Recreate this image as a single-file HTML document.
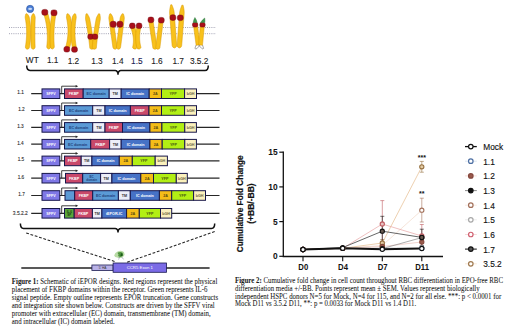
<!DOCTYPE html>
<html><head><meta charset="utf-8">
<style>
html,body{margin:0;padding:0;background:#fff;width:520px;height:336px;overflow:hidden}
svg{position:absolute;left:0;top:0;display:block}
.ser{font-family:"Liberation Serif",serif}
.san{font-family:"Liberation Sans",sans-serif}
</style></head><body>
<svg width="520" height="336" viewBox="0 0 520 336">
<rect width="520" height="336" fill="#fff"/>

<!-- ===== chromosomes ===== -->
<g id="dots" stroke="#8a8aa0" stroke-width="0.8" stroke-dasharray="1 1.2">
  <line x1="9" y1="27.5" x2="216" y2="27.5"/>
  <line x1="9" y1="33.7" x2="216" y2="33.7"/>
</g>
<g id="chromo">
<g fill="#f8c11c" stroke="#d99800" stroke-width="0.55" stroke-linejoin="round">
<path d="M25.82,13.94 L25.61,14.74 L25.42,15.53 L25.27,16.30 L25.20,17.05 L25.21,17.78 L25.31,18.49 L25.44,19.20 L25.56,19.90 L25.68,20.61 L25.78,21.31 L25.88,22.02 L25.98,22.73 L26.07,23.44 L26.15,24.15 L26.22,24.86 L26.29,25.57 L26.35,26.29 L26.41,27.00 L26.46,27.72 L26.50,28.43 L26.53,29.15 L26.56,29.87 L26.58,30.59 L26.60,31.31 L26.61,32.03 L26.61,32.75 L26.61,33.48 L26.60,34.20 L26.58,34.93 L26.55,35.65 L26.52,36.38 L26.49,37.11 L26.44,37.84 L26.39,38.57 L26.33,39.30 L26.27,40.03 L26.20,40.77 L26.12,41.50 L26.04,42.24 L25.95,42.97 L25.85,43.71 L25.75,44.45 L25.64,45.19 L25.52,45.93 L25.41,46.67 L25.44,47.45 L25.71,48.27 L27.00,49.30 L27.00,49.30 L28.58,48.81 L29.13,48.11 L29.43,47.36 L29.57,46.59 L29.69,45.81 L29.81,45.04 L29.92,44.26 L30.02,43.49 L30.11,42.72 L30.20,41.95 L30.28,41.18 L30.35,40.41 L30.42,39.64 L30.48,38.87 L30.53,38.10 L30.58,37.34 L30.62,36.57 L30.65,35.81 L30.68,35.04 L30.70,34.28 L30.71,33.52 L30.71,32.76 L30.71,32.00 L30.70,31.24 L30.68,30.48 L30.66,29.73 L30.63,28.97 L30.59,28.21 L30.55,27.46 L30.50,26.71 L30.44,25.95 L30.37,25.20 L30.30,24.45 L30.22,23.70 L30.14,22.95 L30.05,22.21 L29.95,21.46 L29.84,20.71 L29.73,19.97 L29.61,19.23 L29.48,18.48 L29.34,17.74 L29.17,17.01 L28.89,16.29 L28.52,15.61 L28.06,14.94 L27.54,14.29 L26.98,13.66 Z"/>
<path d="M32.80,13.77 L32.39,14.47 L32.00,15.17 L31.67,15.88 L31.42,16.59 L31.26,17.31 L31.20,18.04 L31.17,18.76 L31.15,19.49 L31.12,20.22 L31.10,20.95 L31.07,21.68 L31.05,22.41 L31.03,23.14 L31.01,23.88 L30.99,24.61 L30.98,25.35 L30.96,26.08 L30.95,26.82 L30.94,27.56 L30.93,28.30 L30.92,29.04 L30.91,29.78 L30.90,30.52 L30.90,31.26 L30.90,32.01 L30.89,32.75 L30.89,33.50 L30.89,34.24 L30.90,34.99 L30.90,35.74 L30.90,36.49 L30.91,37.24 L30.92,37.99 L30.93,38.74 L30.94,39.50 L30.95,40.25 L30.96,41.01 L30.98,41.76 L30.99,42.52 L31.01,43.28 L31.03,44.04 L31.05,44.80 L31.07,45.56 L31.10,46.32 L31.13,47.08 L31.32,47.84 L31.75,48.59 L33.20,49.30 L33.20,49.30 L34.59,48.49 L34.97,47.71 L35.11,46.95 L35.09,46.20 L35.07,45.44 L35.05,44.69 L35.03,43.93 L35.01,43.18 L34.99,42.43 L34.98,41.68 L34.96,40.93 L34.95,40.19 L34.94,39.44 L34.93,38.69 L34.92,37.95 L34.91,37.20 L34.90,36.46 L34.90,35.72 L34.90,34.98 L34.89,34.24 L34.89,33.50 L34.89,32.76 L34.90,32.02 L34.90,31.29 L34.90,30.55 L34.91,29.82 L34.92,29.08 L34.93,28.35 L34.94,27.62 L34.95,26.89 L34.96,26.16 L34.98,25.43 L34.99,24.70 L35.01,23.98 L35.03,23.25 L35.05,22.53 L35.07,21.80 L35.09,21.08 L35.12,20.36 L35.14,19.64 L35.17,18.92 L35.20,18.20 L35.20,17.48 L35.10,16.76 L34.91,16.03 L34.65,15.30 L34.34,14.57 L34.00,13.83 Z"/>
<path d="M44.83,12.68 L44.25,13.70 L44.01,14.60 L44.18,15.37 L44.40,16.12 L44.60,16.87 L44.80,17.62 L44.99,18.37 L45.18,19.12 L45.35,19.87 L45.52,20.62 L45.69,21.37 L45.84,22.11 L45.99,22.86 L46.13,23.61 L46.26,24.35 L46.38,25.10 L46.50,25.84 L46.61,26.59 L46.71,27.33 L46.80,28.07 L46.89,28.81 L46.97,29.56 L47.04,30.30 L47.11,31.04 L47.16,31.78 L47.21,32.52 L47.26,33.26 L47.29,34.00 L47.32,34.74 L47.34,35.47 L47.35,36.21 L47.36,36.95 L47.35,37.68 L47.34,38.42 L47.33,39.16 L47.30,39.89 L47.27,40.63 L47.23,41.36 L47.18,42.09 L47.13,42.83 L47.07,43.56 L47.00,44.29 L46.92,45.03 L46.84,45.76 L46.76,46.49 L46.82,47.24 L47.11,48.04 L48.40,49.00 L48.40,49.00 L49.92,48.46 L50.44,47.75 L50.70,47.01 L50.81,46.23 L50.90,45.46 L50.98,44.69 L51.05,43.92 L51.12,43.14 L51.17,42.37 L51.22,41.60 L51.26,40.82 L51.30,40.05 L51.32,39.27 L51.34,38.49 L51.35,37.72 L51.36,36.94 L51.35,36.16 L51.34,35.39 L51.32,34.61 L51.29,33.83 L51.25,33.05 L51.21,32.27 L51.15,31.49 L51.09,30.71 L51.03,29.93 L50.95,29.15 L50.87,28.37 L50.77,27.59 L50.67,26.81 L50.57,26.02 L50.45,25.24 L50.33,24.46 L50.20,23.68 L50.06,22.89 L49.91,22.11 L49.76,21.32 L49.60,20.54 L49.43,19.75 L49.25,18.97 L49.07,18.18 L48.87,17.40 L48.67,16.61 L48.46,15.83 L48.25,15.04 L48.02,14.25 L47.75,13.48 L47.03,12.84 L45.97,12.32 Z"/>
<path d="M53.51,12.89 L52.53,13.50 L51.91,14.17 L51.73,14.92 L51.61,15.68 L51.49,16.44 L51.37,17.21 L51.26,17.97 L51.16,18.73 L51.06,19.49 L50.96,20.25 L50.86,21.01 L50.78,21.77 L50.69,22.54 L50.61,23.30 L50.54,24.06 L50.46,24.82 L50.40,25.58 L50.33,26.34 L50.28,27.10 L50.22,27.87 L50.17,28.63 L50.13,29.39 L50.09,30.15 L50.05,30.91 L50.02,31.67 L49.99,32.43 L49.97,33.20 L49.95,33.96 L49.94,34.72 L49.93,35.48 L49.92,36.24 L49.92,37.00 L49.93,37.77 L49.93,38.53 L49.95,39.29 L49.96,40.05 L49.98,40.81 L50.01,41.57 L50.04,42.33 L50.07,43.10 L50.11,43.86 L50.16,44.62 L50.20,45.38 L50.26,46.14 L50.32,46.90 L50.54,47.65 L51.01,48.38 L52.50,49.00 L52.50,49.00 L53.85,48.12 L54.19,47.35 L54.29,46.60 L54.25,45.86 L54.20,45.12 L54.15,44.38 L54.11,43.64 L54.07,42.90 L54.04,42.17 L54.01,41.43 L53.98,40.69 L53.96,39.95 L53.95,39.21 L53.93,38.47 L53.93,37.73 L53.92,37.00 L53.92,36.26 L53.93,35.52 L53.94,34.78 L53.95,34.04 L53.97,33.30 L53.99,32.57 L54.02,31.83 L54.05,31.09 L54.08,30.35 L54.12,29.61 L54.17,28.87 L54.21,28.13 L54.27,27.40 L54.32,26.66 L54.38,25.92 L54.45,25.18 L54.52,24.44 L54.59,23.70 L54.67,22.96 L54.75,22.23 L54.84,21.49 L54.93,20.75 L55.02,20.01 L55.12,19.27 L55.22,18.53 L55.33,17.79 L55.44,17.06 L55.56,16.32 L55.68,15.58 L55.76,14.83 L55.39,14.00 L54.69,13.11 Z"/>
<path d="M66.92,13.97 L66.76,14.78 L66.62,15.57 L66.51,16.35 L66.47,17.10 L66.51,17.82 L66.64,18.53 L66.78,19.22 L66.92,19.91 L67.05,20.61 L67.17,21.30 L67.29,22.00 L67.39,22.69 L67.48,23.38 L67.57,24.08 L67.65,24.77 L67.72,25.47 L67.78,26.16 L67.83,26.85 L67.88,27.55 L67.92,28.24 L67.94,28.94 L67.96,29.63 L67.97,30.32 L67.98,31.02 L67.97,31.71 L67.95,32.41 L67.93,33.10 L67.90,33.80 L67.86,34.49 L67.81,35.19 L67.75,35.88 L67.69,36.58 L67.61,37.27 L67.53,37.97 L67.44,38.67 L67.34,39.36 L67.23,40.06 L67.12,40.75 L66.99,41.45 L66.86,42.15 L66.72,42.85 L66.56,43.54 L66.41,44.24 L66.24,44.94 L66.06,45.64 L65.88,46.34 L65.68,47.04 L67.40,48.30 L67.40,48.30 L69.53,48.12 L69.74,47.38 L69.93,46.64 L70.12,45.90 L70.30,45.15 L70.47,44.41 L70.63,43.67 L70.78,42.92 L70.92,42.18 L71.06,41.44 L71.18,40.69 L71.30,39.95 L71.40,39.21 L71.50,38.46 L71.59,37.72 L71.67,36.98 L71.74,36.23 L71.80,35.49 L71.85,34.75 L71.89,34.00 L71.93,33.26 L71.95,32.52 L71.97,31.77 L71.97,31.03 L71.97,30.29 L71.96,29.54 L71.94,28.80 L71.91,28.06 L71.87,27.32 L71.82,26.57 L71.77,25.83 L71.70,25.09 L71.63,24.35 L71.54,23.61 L71.45,22.86 L71.35,22.12 L71.24,21.38 L71.12,20.64 L70.99,19.90 L70.85,19.16 L70.70,18.42 L70.55,17.68 L70.35,16.94 L70.05,16.23 L69.66,15.55 L69.18,14.89 L68.65,14.25 L68.08,13.63 Z"/>
<path d="M74.41,13.67 L73.89,14.31 L73.40,14.97 L72.96,15.64 L72.61,16.33 L72.35,17.04 L72.19,17.77 L72.07,18.50 L71.95,19.24 L71.84,19.97 L71.74,20.70 L71.65,21.44 L71.56,22.17 L71.47,22.91 L71.40,23.64 L71.33,24.38 L71.26,25.11 L71.20,25.85 L71.15,26.58 L71.11,27.32 L71.07,28.05 L71.04,28.79 L71.01,29.52 L70.99,30.26 L70.98,31.00 L70.97,31.73 L70.97,32.47 L70.97,33.20 L70.98,33.94 L71.00,34.68 L71.02,35.41 L71.06,36.15 L71.09,36.89 L71.13,37.62 L71.18,38.36 L71.24,39.10 L71.30,39.83 L71.37,40.57 L71.44,41.31 L71.52,42.04 L71.61,42.78 L71.71,43.52 L71.81,44.25 L71.91,44.99 L72.02,45.73 L72.14,46.46 L72.27,47.20 L72.40,47.94 L74.50,48.30 L74.50,48.30 L76.33,47.22 L76.21,46.52 L76.09,45.81 L75.98,45.11 L75.87,44.40 L75.77,43.70 L75.67,43.00 L75.58,42.29 L75.50,41.59 L75.42,40.89 L75.35,40.18 L75.29,39.48 L75.23,38.78 L75.17,38.07 L75.13,37.37 L75.09,36.67 L75.05,35.97 L75.02,35.27 L75.00,34.56 L74.98,33.86 L74.97,33.16 L74.97,32.46 L74.97,31.76 L74.97,31.05 L74.99,30.35 L75.01,29.65 L75.03,28.95 L75.06,28.25 L75.10,27.55 L75.14,26.85 L75.19,26.14 L75.25,25.44 L75.31,24.74 L75.38,24.04 L75.45,23.34 L75.53,22.64 L75.62,21.94 L75.71,21.24 L75.80,20.54 L75.91,19.84 L76.02,19.14 L76.13,18.44 L76.22,17.73 L76.23,17.00 L76.14,16.26 L76.00,15.50 L75.80,14.72 L75.59,13.93 Z"/>
<path d="M86.01,13.92 L85.85,14.90 L85.71,15.88 L85.60,16.84 L85.54,17.78 L85.53,18.70 L85.60,19.60 L85.75,20.47 L85.91,21.33 L86.06,22.19 L86.22,23.04 L86.37,23.88 L86.52,24.71 L86.67,25.54 L86.81,26.35 L86.95,27.16 L87.09,27.96 L87.22,28.76 L87.35,29.54 L87.48,30.32 L87.60,31.09 L87.73,31.85 L87.84,32.61 L87.96,33.35 L88.07,34.09 L88.18,34.82 L88.29,35.54 L88.40,36.26 L88.50,36.97 L88.60,37.67 L88.69,38.36 L88.78,39.04 L88.87,39.72 L88.96,40.39 L89.04,41.05 L89.12,41.70 L89.20,42.34 L89.28,42.98 L89.35,43.61 L89.42,44.23 L89.48,44.84 L89.55,45.45 L89.61,46.04 L89.66,46.63 L89.72,47.21 L89.78,47.78 L90.00,48.34 L90.47,48.86 L92.00,49.30 L92.00,49.30 L93.45,48.62 L93.82,48.02 L93.94,47.42 L93.90,46.83 L93.85,46.23 L93.79,45.63 L93.73,45.02 L93.66,44.40 L93.59,43.77 L93.52,43.14 L93.45,42.49 L93.37,41.85 L93.29,41.19 L93.21,40.52 L93.13,39.85 L93.04,39.17 L92.95,38.48 L92.85,37.79 L92.76,37.09 L92.66,36.38 L92.55,35.66 L92.45,34.93 L92.34,34.20 L92.23,33.46 L92.11,32.71 L91.99,31.96 L91.87,31.19 L91.75,30.42 L91.62,29.64 L91.49,28.86 L91.36,28.06 L91.23,27.26 L91.09,26.45 L90.95,25.63 L90.80,24.81 L90.66,23.98 L90.51,23.14 L90.35,22.29 L90.20,21.43 L90.04,20.57 L89.88,19.70 L89.69,18.83 L89.43,17.96 L89.08,17.10 L88.68,16.24 L88.21,15.39 L87.71,14.54 L87.19,13.68 Z"/>
<path d="M98.61,13.69 L98.10,14.55 L97.60,15.40 L97.15,16.26 L96.75,17.11 L96.41,17.98 L96.16,18.84 L95.98,19.72 L95.83,20.59 L95.68,21.45 L95.53,22.31 L95.38,23.16 L95.24,24.00 L95.10,24.83 L94.97,25.65 L94.83,26.47 L94.70,27.28 L94.58,28.08 L94.45,28.88 L94.33,29.66 L94.21,30.44 L94.10,31.21 L93.99,31.98 L93.88,32.73 L93.77,33.48 L93.67,34.22 L93.57,34.96 L93.47,35.68 L93.37,36.40 L93.28,37.11 L93.19,37.81 L93.11,38.51 L93.03,39.20 L92.95,39.88 L92.87,40.55 L92.80,41.21 L92.72,41.87 L92.66,42.52 L92.59,43.16 L92.53,43.80 L92.47,44.43 L92.41,45.05 L92.36,45.66 L92.31,46.26 L92.26,46.86 L92.23,47.45 L92.36,48.04 L92.74,48.65 L94.20,49.30 L94.20,49.30 L95.73,48.84 L96.19,48.31 L96.40,47.75 L96.45,47.18 L96.50,46.60 L96.55,46.01 L96.60,45.42 L96.65,44.81 L96.71,44.20 L96.77,43.58 L96.83,42.95 L96.90,42.32 L96.97,41.67 L97.04,41.02 L97.12,40.36 L97.20,39.69 L97.28,39.02 L97.36,38.33 L97.45,37.64 L97.54,36.94 L97.63,36.24 L97.73,35.52 L97.83,34.80 L97.93,34.07 L98.03,33.33 L98.14,32.58 L98.25,31.83 L98.37,31.07 L98.48,30.30 L98.60,29.52 L98.73,28.73 L98.85,27.94 L98.98,27.14 L99.11,26.33 L99.25,25.52 L99.38,24.69 L99.52,23.86 L99.67,23.02 L99.81,22.17 L99.96,21.32 L100.12,20.45 L100.25,19.58 L100.31,18.68 L100.30,17.76 L100.23,16.82 L100.11,15.87 L99.96,14.90 L99.79,13.91 Z"/>
<path d="M109.71,13.88 L109.47,14.67 L109.24,15.46 L109.06,16.24 L108.93,17.01 L108.86,17.77 L108.87,18.53 L108.95,19.27 L109.05,20.01 L109.16,20.75 L109.26,21.49 L109.37,22.23 L109.47,22.97 L109.57,23.71 L109.68,24.45 L109.78,25.19 L109.89,25.93 L109.99,26.67 L110.10,27.41 L110.20,28.14 L110.30,28.88 L110.41,29.62 L110.51,30.36 L110.62,31.10 L110.72,31.84 L110.82,32.58 L110.93,33.32 L111.03,34.06 L111.14,34.80 L111.24,35.54 L111.35,36.28 L111.45,37.02 L111.55,37.76 L111.66,38.50 L111.76,39.24 L111.87,39.98 L111.97,40.72 L112.07,41.46 L112.18,42.20 L112.28,42.94 L112.39,43.68 L112.49,44.42 L112.60,45.16 L112.70,45.89 L112.80,46.63 L112.92,47.37 L113.19,48.09 L113.72,48.77 L115.30,49.30 L115.30,49.30 L116.68,48.35 L116.99,47.55 L117.06,46.79 L116.96,46.05 L116.86,45.31 L116.75,44.57 L116.65,43.83 L116.55,43.09 L116.44,42.35 L116.34,41.61 L116.23,40.87 L116.13,40.13 L116.03,39.39 L115.92,38.65 L115.82,37.91 L115.71,37.17 L115.61,36.43 L115.50,35.69 L115.40,34.96 L115.30,34.22 L115.19,33.48 L115.09,32.74 L114.98,32.00 L114.88,31.26 L114.78,30.52 L114.67,29.78 L114.57,29.04 L114.46,28.30 L114.36,27.56 L114.25,26.82 L114.15,26.08 L114.05,25.34 L113.94,24.60 L113.84,23.86 L113.73,23.12 L113.63,22.38 L113.53,21.64 L113.42,20.90 L113.32,20.16 L113.21,19.42 L113.11,18.68 L112.98,17.95 L112.78,17.22 L112.51,16.51 L112.16,15.80 L111.77,15.10 L111.34,14.41 L110.89,13.72 Z"/>
<path d="M122.20,13.72 L121.76,14.42 L121.34,15.12 L120.96,15.82 L120.62,16.53 L120.36,17.24 L120.16,17.97 L120.05,18.71 L119.95,19.45 L119.85,20.19 L119.76,20.93 L119.66,21.67 L119.57,22.41 L119.47,23.14 L119.38,23.88 L119.28,24.62 L119.18,25.36 L119.09,26.10 L118.99,26.84 L118.90,27.58 L118.80,28.32 L118.70,29.06 L118.61,29.80 L118.51,30.54 L118.42,31.28 L118.32,32.02 L118.23,32.76 L118.13,33.50 L118.03,34.24 L117.94,34.98 L117.84,35.72 L117.75,36.46 L117.65,37.20 L117.55,37.94 L117.46,38.68 L117.36,39.42 L117.27,40.16 L117.17,40.89 L117.08,41.63 L116.98,42.37 L116.88,43.11 L116.79,43.85 L116.69,44.59 L116.60,45.33 L116.50,46.07 L116.42,46.81 L116.49,47.57 L116.81,48.37 L118.20,49.30 L118.20,49.30 L119.78,48.75 L120.30,48.07 L120.56,47.35 L120.67,46.61 L120.76,45.87 L120.86,45.13 L120.95,44.39 L121.05,43.65 L121.15,42.91 L121.24,42.17 L121.34,41.43 L121.43,40.69 L121.53,39.96 L121.62,39.22 L121.72,38.48 L121.82,37.74 L121.91,37.00 L122.01,36.26 L122.10,35.52 L122.20,34.78 L122.30,34.04 L122.39,33.30 L122.49,32.56 L122.58,31.82 L122.68,31.08 L122.77,30.34 L122.87,29.60 L122.97,28.86 L123.06,28.12 L123.16,27.38 L123.25,26.64 L123.35,25.90 L123.45,25.16 L123.54,24.42 L123.64,23.68 L123.73,22.94 L123.83,22.21 L123.92,21.47 L124.02,20.73 L124.12,19.99 L124.21,19.25 L124.29,18.50 L124.28,17.75 L124.21,16.99 L124.07,16.22 L123.87,15.44 L123.64,14.66 L123.40,13.88 Z"/>
<path d="M131.65,26.23 L131.07,27.06 L130.80,27.75 L130.95,28.26 L131.13,28.75 L131.31,29.25 L131.47,29.74 L131.64,30.22 L131.79,30.71 L131.94,31.19 L132.08,31.67 L132.21,32.15 L132.34,32.63 L132.46,33.10 L132.57,33.57 L132.68,34.04 L132.77,34.51 L132.86,34.97 L132.95,35.44 L133.03,35.90 L133.10,36.36 L133.16,36.81 L133.22,37.27 L133.26,37.72 L133.31,38.17 L133.34,38.62 L133.37,39.07 L133.39,39.51 L133.41,39.96 L133.42,40.40 L133.42,40.83 L133.41,41.27 L133.40,41.71 L133.38,42.14 L133.36,42.57 L133.32,43.00 L133.28,43.43 L133.24,43.85 L133.19,44.27 L133.13,44.70 L133.06,45.12 L132.99,45.53 L132.91,45.95 L132.82,46.37 L132.73,46.78 L132.64,47.19 L132.69,47.65 L132.96,48.17 L134.20,49.00 L134.20,49.00 L135.70,48.95 L136.22,48.60 L136.50,48.17 L136.62,47.69 L136.73,47.22 L136.83,46.74 L136.92,46.26 L137.01,45.77 L137.08,45.29 L137.15,44.80 L137.21,44.31 L137.27,43.82 L137.31,43.33 L137.35,42.84 L137.38,42.35 L137.40,41.85 L137.41,41.35 L137.42,40.85 L137.42,40.35 L137.41,39.85 L137.39,39.35 L137.37,38.84 L137.33,38.33 L137.29,37.83 L137.24,37.32 L137.19,36.81 L137.13,36.29 L137.05,35.78 L136.98,35.27 L136.89,34.75 L136.80,34.23 L136.69,33.71 L136.58,33.19 L136.47,32.67 L136.34,32.15 L136.21,31.62 L136.07,31.10 L135.93,30.57 L135.77,30.04 L135.61,29.51 L135.44,28.98 L135.26,28.45 L135.08,27.92 L134.89,27.38 L134.69,26.85 L134.44,26.33 L133.76,25.98 L132.75,25.77 Z"/>
<path d="M138.52,25.86 L137.56,26.18 L136.95,26.60 L136.78,27.13 L136.67,27.66 L136.56,28.20 L136.46,28.73 L136.36,29.26 L136.27,29.78 L136.19,30.31 L136.11,30.84 L136.04,31.36 L135.97,31.88 L135.91,32.40 L135.85,32.92 L135.81,33.44 L135.76,33.95 L135.72,34.47 L135.69,34.98 L135.67,35.49 L135.65,36.00 L135.63,36.51 L135.62,37.02 L135.62,37.52 L135.63,38.03 L135.63,38.53 L135.65,39.03 L135.67,39.53 L135.70,40.02 L135.73,40.52 L135.77,41.01 L135.82,41.51 L135.87,42.00 L135.92,42.49 L135.99,42.97 L136.06,43.46 L136.13,43.94 L136.21,44.43 L136.30,44.91 L136.39,45.39 L136.49,45.86 L136.60,46.34 L136.71,46.81 L136.82,47.28 L136.95,47.75 L137.09,48.22 L137.37,48.64 L137.90,48.98 L139.40,49.00 L139.40,49.00 L140.62,48.14 L140.88,47.60 L140.91,47.14 L140.81,46.72 L140.70,46.30 L140.60,45.88 L140.50,45.45 L140.40,45.03 L140.31,44.60 L140.23,44.17 L140.15,43.74 L140.08,43.31 L140.01,42.87 L139.95,42.44 L139.89,42.00 L139.84,41.56 L139.80,41.12 L139.76,40.67 L139.72,40.23 L139.69,39.78 L139.67,39.33 L139.65,38.88 L139.63,38.43 L139.62,37.97 L139.62,37.52 L139.62,37.06 L139.63,36.60 L139.64,36.14 L139.66,35.67 L139.69,35.21 L139.71,34.74 L139.75,34.27 L139.79,33.80 L139.83,33.32 L139.89,32.85 L139.94,32.37 L140.00,31.89 L140.07,31.41 L140.14,30.92 L140.22,30.44 L140.30,29.95 L140.39,29.46 L140.49,28.97 L140.59,28.48 L140.69,27.98 L140.76,27.47 L140.39,26.86 L139.68,26.14 Z"/>
<path d="M150.21,20.09 L149.40,20.84 L148.96,21.53 L149.00,22.14 L149.09,22.75 L149.18,23.36 L149.27,23.97 L149.36,24.58 L149.46,25.20 L149.55,25.81 L149.64,26.42 L149.73,27.03 L149.82,27.64 L149.91,28.25 L150.01,28.86 L150.10,29.47 L150.19,30.08 L150.28,30.69 L150.37,31.30 L150.46,31.91 L150.56,32.52 L150.65,33.13 L150.74,33.74 L150.83,34.35 L150.92,34.96 L151.01,35.57 L151.11,36.18 L151.20,36.79 L151.29,37.40 L151.38,38.01 L151.47,38.62 L151.56,39.23 L151.66,39.85 L151.75,40.46 L151.84,41.07 L151.93,41.68 L152.02,42.29 L152.11,42.90 L152.21,43.51 L152.30,44.12 L152.39,44.73 L152.48,45.34 L152.57,45.95 L152.66,46.56 L152.76,47.17 L152.86,47.78 L153.12,48.36 L153.63,48.91 L155.20,49.30 L155.20,49.30 L156.59,48.47 L156.92,47.79 L156.99,47.16 L156.91,46.55 L156.82,45.94 L156.73,45.33 L156.64,44.72 L156.54,44.10 L156.45,43.49 L156.36,42.88 L156.27,42.27 L156.18,41.66 L156.09,41.05 L155.99,40.44 L155.90,39.83 L155.81,39.22 L155.72,38.61 L155.63,38.00 L155.54,37.39 L155.44,36.78 L155.35,36.17 L155.26,35.56 L155.17,34.95 L155.08,34.34 L154.99,33.73 L154.89,33.12 L154.80,32.51 L154.71,31.90 L154.62,31.29 L154.53,30.68 L154.44,30.07 L154.34,29.45 L154.25,28.84 L154.16,28.23 L154.07,27.62 L153.98,27.01 L153.89,26.40 L153.79,25.79 L153.70,25.18 L153.61,24.57 L153.52,23.96 L153.43,23.35 L153.34,22.74 L153.24,22.13 L153.15,21.52 L153.01,20.92 L152.39,20.39 L151.39,19.91 Z"/>
<path d="M160.60,19.93 L159.62,20.43 L159.02,20.97 L158.89,21.58 L158.82,22.19 L158.74,22.80 L158.67,23.41 L158.59,24.02 L158.52,24.63 L158.44,25.24 L158.37,25.85 L158.29,26.46 L158.22,27.07 L158.14,27.68 L158.07,28.29 L157.99,28.90 L157.92,29.51 L157.84,30.12 L157.77,30.73 L157.69,31.34 L157.62,31.95 L157.54,32.56 L157.47,33.17 L157.39,33.78 L157.32,34.39 L157.24,35.00 L157.17,35.61 L157.09,36.23 L157.02,36.84 L156.94,37.45 L156.87,38.06 L156.79,38.67 L156.72,39.28 L156.64,39.89 L156.57,40.50 L156.49,41.11 L156.42,41.72 L156.34,42.33 L156.27,42.94 L156.19,43.55 L156.12,44.16 L156.04,44.77 L155.97,45.38 L155.89,45.99 L155.82,46.60 L155.75,47.21 L155.84,47.84 L156.19,48.51 L157.60,49.30 L157.60,49.30 L159.16,48.87 L159.66,48.31 L159.90,47.72 L159.98,47.11 L160.06,46.50 L160.13,45.89 L160.21,45.28 L160.28,44.67 L160.36,44.06 L160.43,43.45 L160.51,42.84 L160.58,42.23 L160.66,41.62 L160.73,41.01 L160.81,40.40 L160.88,39.79 L160.96,39.18 L161.03,38.57 L161.11,37.96 L161.18,37.35 L161.26,36.74 L161.33,36.13 L161.41,35.52 L161.48,34.91 L161.56,34.30 L161.63,33.69 L161.71,33.07 L161.78,32.46 L161.86,31.85 L161.93,31.24 L162.01,30.63 L162.08,30.02 L162.16,29.41 L162.23,28.80 L162.31,28.19 L162.38,27.58 L162.46,26.97 L162.53,26.36 L162.61,25.75 L162.68,25.14 L162.76,24.53 L162.83,23.92 L162.91,23.31 L162.98,22.70 L163.06,22.09 L163.08,21.47 L162.63,20.79 L161.80,20.07 Z"/>
<path d="M170.70,4.85 L170.49,5.77 L170.29,6.69 L170.11,7.61 L169.94,8.52 L169.81,9.44 L169.70,10.35 L169.64,11.26 L169.61,12.17 L169.63,13.07 L169.69,13.98 L169.76,14.88 L169.83,15.78 L169.90,16.68 L169.97,17.58 L170.04,18.48 L170.11,19.38 L170.18,20.28 L170.24,21.18 L170.31,22.08 L170.38,22.98 L170.45,23.88 L170.52,24.78 L170.59,25.68 L170.66,26.58 L170.73,27.48 L170.79,28.38 L170.86,29.28 L170.93,30.18 L171.00,31.08 L171.07,31.98 L171.14,32.88 L171.21,33.78 L171.28,34.68 L171.34,35.58 L171.41,36.48 L171.48,37.38 L171.55,38.28 L171.62,39.18 L171.69,40.08 L171.76,40.98 L171.83,41.88 L171.89,42.78 L171.96,43.68 L172.03,44.58 L172.11,45.47 L172.37,46.36 L172.90,47.22 L174.60,48.00 L174.60,48.00 L176.16,46.98 L176.56,46.04 L176.67,45.13 L176.62,44.22 L176.55,43.32 L176.48,42.42 L176.41,41.52 L176.34,40.62 L176.27,39.72 L176.21,38.82 L176.14,37.92 L176.07,37.02 L176.00,36.12 L175.93,35.22 L175.86,34.32 L175.79,33.42 L175.72,32.52 L175.66,31.62 L175.59,30.72 L175.52,29.82 L175.45,28.92 L175.38,28.02 L175.31,27.12 L175.24,26.22 L175.17,25.32 L175.11,24.42 L175.04,23.52 L174.97,22.62 L174.90,21.72 L174.83,20.82 L174.76,19.92 L174.69,19.02 L174.62,18.12 L174.56,17.22 L174.49,16.32 L174.42,15.42 L174.35,14.52 L174.28,13.62 L174.20,12.73 L174.09,11.83 L173.92,10.94 L173.72,10.05 L173.48,9.16 L173.21,8.28 L172.90,7.39 L172.58,6.51 L172.24,5.63 L171.90,4.75 Z"/>
<path d="M181.90,5.15 L181.56,6.02 L181.22,6.90 L180.90,7.77 L180.59,8.64 L180.32,9.52 L180.08,10.40 L179.88,11.28 L179.71,12.16 L179.60,13.05 L179.52,13.94 L179.45,14.83 L179.38,15.72 L179.31,16.61 L179.24,17.51 L179.18,18.40 L179.11,19.29 L179.04,20.18 L178.97,21.07 L178.90,21.96 L178.83,22.86 L178.76,23.75 L178.69,24.64 L178.63,25.53 L178.56,26.42 L178.49,27.31 L178.42,28.21 L178.35,29.10 L178.28,29.99 L178.21,30.88 L178.14,31.77 L178.08,32.66 L178.01,33.56 L177.94,34.45 L177.87,35.34 L177.80,36.23 L177.73,37.12 L177.66,38.01 L177.59,38.91 L177.53,39.80 L177.46,40.69 L177.39,41.58 L177.32,42.47 L177.25,43.36 L177.18,44.26 L177.13,45.15 L177.24,46.05 L177.64,46.98 L179.20,48.00 L179.20,48.00 L180.90,47.23 L181.43,46.38 L181.69,45.50 L181.77,44.61 L181.84,43.72 L181.91,42.83 L181.97,41.94 L182.04,41.04 L182.11,40.15 L182.18,39.26 L182.25,38.37 L182.32,37.48 L182.39,36.59 L182.46,35.69 L182.52,34.80 L182.59,33.91 L182.66,33.02 L182.73,32.13 L182.80,31.24 L182.87,30.34 L182.94,29.45 L183.01,28.56 L183.07,27.67 L183.14,26.78 L183.21,25.89 L183.28,24.99 L183.35,24.10 L183.42,23.21 L183.49,22.32 L183.56,21.43 L183.62,20.54 L183.69,19.64 L183.76,18.75 L183.83,17.86 L183.90,16.97 L183.97,16.08 L184.04,15.19 L184.11,14.29 L184.17,13.40 L184.19,12.51 L184.16,11.61 L184.10,10.70 L183.99,9.80 L183.86,8.89 L183.69,7.98 L183.51,7.07 L183.31,6.16 L183.10,5.25 Z"/>
<path d="M194.61,23.08 L193.28,23.72 L193.34,24.18 L193.40,24.64 L193.46,25.09 L193.52,25.55 L193.58,26.01 L193.64,26.47 L193.70,26.93 L193.76,27.39 L193.82,27.84 L193.88,28.30 L193.94,28.76 L194.00,29.22 L194.06,29.68 L194.12,30.14 L194.18,30.59 L194.24,31.05 L194.30,31.51 L194.37,31.97 L194.43,32.43 L194.49,32.89 L194.55,33.34 L194.61,33.80 L194.67,34.26 L194.73,34.72 L194.79,35.18 L194.85,35.64 L194.91,36.09 L194.97,36.55 L195.03,37.01 L195.09,37.47 L195.15,37.93 L195.21,38.39 L195.27,38.84 L195.33,39.30 L195.39,39.76 L195.45,40.22 L195.51,40.68 L195.57,41.14 L195.63,41.59 L195.69,42.05 L195.75,42.51 L195.82,42.97 L195.88,43.43 L195.94,43.89 L196.00,44.34 L196.06,44.80 L196.12,45.26 L200.08,44.74 L200.02,44.28 L199.96,43.82 L199.90,43.36 L199.84,42.91 L199.78,42.45 L199.72,41.99 L199.66,41.53 L199.60,41.07 L199.54,40.61 L199.48,40.16 L199.42,39.70 L199.36,39.24 L199.30,38.78 L199.24,38.32 L199.18,37.86 L199.12,37.41 L199.06,36.95 L199.00,36.49 L198.93,36.03 L198.87,35.57 L198.81,35.11 L198.75,34.66 L198.69,34.20 L198.63,33.74 L198.57,33.28 L198.51,32.82 L198.45,32.36 L198.39,31.91 L198.33,31.45 L198.27,30.99 L198.21,30.53 L198.15,30.07 L198.09,29.61 L198.03,29.16 L197.97,28.70 L197.91,28.24 L197.85,27.78 L197.79,27.32 L197.73,26.86 L197.67,26.41 L197.61,25.95 L197.55,25.49 L197.48,25.03 L197.42,24.57 L197.36,24.11 L197.30,23.66 L197.24,23.20 L195.79,22.92 Z"/>
<path d="M202.00,22.94 L200.57,23.27 L200.52,23.73 L200.48,24.18 L200.43,24.64 L200.39,25.10 L200.35,25.56 L200.30,26.02 L200.26,26.48 L200.22,26.93 L200.17,27.39 L200.13,27.85 L200.08,28.31 L200.04,28.77 L200.00,29.23 L199.95,29.68 L199.91,30.14 L199.87,30.60 L199.82,31.06 L199.78,31.52 L199.73,31.98 L199.69,32.43 L199.65,32.89 L199.60,33.35 L199.56,33.81 L199.52,34.27 L199.47,34.73 L199.43,35.18 L199.38,35.64 L199.34,36.10 L199.30,36.56 L199.25,37.02 L199.21,37.48 L199.17,37.93 L199.12,38.39 L199.08,38.85 L199.03,39.31 L198.99,39.77 L198.95,40.23 L198.90,40.68 L198.86,41.14 L198.82,41.60 L198.77,42.06 L198.73,42.52 L198.68,42.98 L198.64,43.43 L198.60,43.89 L198.55,44.35 L198.51,44.81 L202.49,45.19 L202.53,44.73 L202.58,44.27 L202.62,43.82 L202.67,43.36 L202.71,42.90 L202.75,42.44 L202.80,41.98 L202.84,41.52 L202.88,41.07 L202.93,40.61 L202.97,40.15 L203.02,39.69 L203.06,39.23 L203.10,38.77 L203.15,38.32 L203.19,37.86 L203.23,37.40 L203.28,36.94 L203.32,36.48 L203.37,36.02 L203.41,35.57 L203.45,35.11 L203.50,34.65 L203.54,34.19 L203.58,33.73 L203.63,33.27 L203.67,32.82 L203.72,32.36 L203.76,31.90 L203.80,31.44 L203.85,30.98 L203.89,30.52 L203.93,30.07 L203.98,29.61 L204.02,29.15 L204.07,28.69 L204.11,28.23 L204.15,27.77 L204.20,27.32 L204.24,26.86 L204.28,26.40 L204.33,25.94 L204.37,25.48 L204.42,25.02 L204.46,24.57 L204.50,24.11 L204.55,23.65 L203.20,23.06 Z"/>
</g>
<path d="M196.1,45 L194.9,48.4 Q195.8,49.4 196.9,48.6 L200.1,45 M198.5,45 L201.9,48.6 Q203,49.4 203.6,48.4 L202.5,45" fill="none" stroke="#7a7a7a" stroke-width="0.65"/>
<circle cx="30.1" cy="8.9" r="3.6" fill="#4a7fd6" stroke="#2a4f9e" stroke-width="0.6"/>
<ellipse cx="30.1" cy="8.9" rx="2" ry="1.1" fill="#c8d8f4"/>
<g fill="#a80f1a" stroke="#780a10" stroke-width="0.5">
<rect x="41.80" y="9.40" width="6.00" height="5.80" rx="2.17"/>
<rect x="51.00" y="9.90" width="6.00" height="5.80" rx="2.17"/>
<rect x="63.90" y="46.60" width="5.80" height="5.40" rx="2.03"/>
<rect x="71.60" y="46.80" width="5.80" height="5.40" rx="2.03"/>
<rect x="87.80" y="34.10" width="5.40" height="5.20" rx="1.95"/>
<rect x="92.30" y="34.10" width="5.40" height="5.20" rx="1.95"/>
<rect x="110.20" y="21.30" width="6.00" height="6.00" rx="2.25"/>
<rect x="116.90" y="21.30" width="6.00" height="6.00" rx="2.25"/>
<rect x="129.50" y="23.10" width="5.60" height="5.40" rx="2.03"/>
<rect x="136.30" y="23.10" width="5.60" height="5.40" rx="2.03"/>
<rect x="148.00" y="17.10" width="5.80" height="5.60" rx="2.10"/>
<rect x="158.40" y="17.40" width="5.80" height="5.60" rx="2.10"/>
<rect x="170.00" y="14.80" width="5.80" height="5.60" rx="2.10"/>
<rect x="177.40" y="15.00" width="5.80" height="5.60" rx="2.10"/>
<rect x="192.50" y="22.50" width="5.20" height="4.60" rx="1.72"/>
<rect x="199.90" y="22.50" width="5.20" height="4.60" rx="1.72"/>
</g>
<g fill="#3f9a4e" stroke="#2a6a33" stroke-width="0.4" stroke-linejoin="round">
<path d="M193.1,22.6 Q193.8,19.4 194.9,17.5 Q196.4,19.4 197.2,22.6 Z"/>
<path d="M200.5,22.6 Q202.2,19.8 204.7,18 Q205.1,20.5 204.9,22.6 Z"/>
</g>
</g>

<!-- labels -->
<g class="san" font-size="8.3" fill="#1a1a1a" stroke="#1a1a1a" stroke-width="0.1">
  <text x="25.8" y="63.3">WT</text>
  <text x="46.9" y="63.3">1.1</text>
  <text x="67.7" y="64">1.2</text>
  <text x="91.2" y="63.6">1.3</text>
  <text x="112" y="63.6">1.4</text>
  <text x="131.1" y="63.6" fill="#1a1a5a">1.5</text>
  <text x="151.2" y="63.6">1.6</text>
  <text x="172.4" y="63.6">1.7</text>
  <text x="189.9" y="63.6">3.5.2</text>
</g>
<!-- top bracket -->
<path d="M26.7,65.6 Q26.7,70.4 30,70.4 L115,70.4 Q118,70.4 118,74.8 Q118,70.4 121,70.4 L205,70.4 Q208.3,70.4 208.3,65.4" fill="none" stroke="#111" stroke-width="1.5"/>

<!-- ===== constructs ===== -->
<g class="san" font-size="4.7" fill="#2a2a2a" stroke="#2a2a2a" stroke-width="0.1">
  <text x="17.3" y="94.0">1.1</text>
  <text x="18.2" y="110.8">1.2</text>
  <text x="17.2" y="127.7">1.3</text>
  <text x="17.2" y="144.5">1.4</text>
  <text x="17.7" y="161.2">1.5</text>
  <text x="17.7" y="178.5">1.6</text>
  <text x="18.3" y="195.8">1.7</text>
  <text x="12.8" y="214.8" font-size="5.2" textLength="15" lengthAdjust="spacingAndGlyphs">3.5.2.2</text>
</g>
<g id="rows" class="san">
<line x1="31.2" y1="93.7" x2="219.5" y2="93.7" stroke="#262626" stroke-width="1.2"/>
<rect x="42.0" y="88.9" width="17.8" height="9.6" fill="#7f78e6" stroke="#17164a" stroke-width="1"/>
<text x="50.9" y="95.0" font-size="3.7" font-weight="bold" fill="#fff" text-anchor="middle">SFFV</text>
<rect x="64.5" y="88.9" width="18.7" height="9.6" fill="#c9496a" stroke="#17164a" stroke-width="1"/>
<text x="73.8" y="95.0" font-size="3.7" font-weight="bold" fill="#fff" text-anchor="middle">FKBP</text>
<rect x="83.2" y="88.9" width="26.0" height="9.6" fill="#5b9ad6" stroke="#17164a" stroke-width="1"/>
<text x="96.2" y="95.0" font-size="3.7" font-weight="bold" fill="#1f3f7a" text-anchor="middle">EC domain</text>
<rect x="109.2" y="88.9" width="12.0" height="9.6" fill="#eceef8" stroke="#17164a" stroke-width="1"/>
<text x="115.2" y="95.0" font-size="3.7" font-weight="bold" fill="#333" text-anchor="middle">TM</text>
<rect x="121.2" y="88.9" width="28.0" height="9.6" fill="#4672c6" stroke="#17164a" stroke-width="1"/>
<text x="135.2" y="95.0" font-size="3.7" font-weight="bold" fill="#fff" text-anchor="middle">IC domain</text>
<rect x="149.2" y="88.9" width="12.3" height="9.6" fill="#f4bd18" stroke="#17164a" stroke-width="1"/>
<text x="155.3" y="95.0" font-size="3.7" font-weight="bold" fill="#5a4a10" text-anchor="middle">2A</text>
<rect x="161.5" y="88.9" width="23.1" height="9.6" fill="#b2ef14" stroke="#17164a" stroke-width="1"/>
<text x="173.1" y="95.0" font-size="3.7" font-weight="bold" fill="#4a5a10" text-anchor="middle">YFP</text>
<rect x="184.6" y="88.9" width="11.9" height="9.6" fill="#fbf1bc" stroke="#17164a" stroke-width="1"/>
<text x="190.6" y="95.0" font-size="3.7" font-weight="bold" fill="#6a6040" text-anchor="middle">bGH</text>
<path d="M61.7,93.7 V86.2 H76.8" fill="none" stroke="#2a2a2a" stroke-width="0.9"/>
<path d="M75.6,84.9 L78.2,86.2 L75.6,87.5 Z" fill="#2a2a2a"/>
<line x1="31.2" y1="110.5" x2="219.5" y2="110.5" stroke="#262626" stroke-width="1.2"/>
<rect x="42.0" y="105.7" width="17.8" height="9.6" fill="#7f78e6" stroke="#17164a" stroke-width="1"/>
<text x="50.9" y="111.8" font-size="3.7" font-weight="bold" fill="#fff" text-anchor="middle">SFFV</text>
<rect x="64.5" y="105.7" width="28.2" height="9.6" fill="#5b9ad6" stroke="#17164a" stroke-width="1"/>
<text x="78.6" y="111.8" font-size="3.7" font-weight="bold" fill="#1f3f7a" text-anchor="middle">EC domain</text>
<rect x="92.7" y="105.7" width="12.3" height="9.6" fill="#eceef8" stroke="#17164a" stroke-width="1"/>
<text x="98.8" y="111.8" font-size="3.7" font-weight="bold" fill="#333" text-anchor="middle">TM</text>
<rect x="105.0" y="105.7" width="25.4" height="9.6" fill="#4672c6" stroke="#17164a" stroke-width="1"/>
<text x="117.7" y="111.8" font-size="3.7" font-weight="bold" fill="#fff" text-anchor="middle">IC domain</text>
<rect x="130.4" y="105.7" width="18.6" height="9.6" fill="#c9496a" stroke="#17164a" stroke-width="1"/>
<text x="139.7" y="111.8" font-size="3.7" font-weight="bold" fill="#fff" text-anchor="middle">FKBP</text>
<rect x="149.0" y="105.7" width="12.5" height="9.6" fill="#f4bd18" stroke="#17164a" stroke-width="1"/>
<text x="155.2" y="111.8" font-size="3.7" font-weight="bold" fill="#5a4a10" text-anchor="middle">2A</text>
<rect x="161.5" y="105.7" width="23.1" height="9.6" fill="#b2ef14" stroke="#17164a" stroke-width="1"/>
<text x="173.1" y="111.8" font-size="3.7" font-weight="bold" fill="#4a5a10" text-anchor="middle">YFP</text>
<rect x="184.6" y="105.7" width="11.9" height="9.6" fill="#fbf1bc" stroke="#17164a" stroke-width="1"/>
<text x="190.6" y="111.8" font-size="3.7" font-weight="bold" fill="#6a6040" text-anchor="middle">bGH</text>
<path d="M61.7,110.5 V103.0 H76.8" fill="none" stroke="#2a2a2a" stroke-width="0.9"/>
<path d="M75.6,101.7 L78.2,103.0 L75.6,104.3 Z" fill="#2a2a2a"/>
<line x1="31.2" y1="127.4" x2="219.5" y2="127.4" stroke="#262626" stroke-width="1.2"/>
<rect x="42.0" y="122.6" width="17.8" height="9.6" fill="#7f78e6" stroke="#17164a" stroke-width="1"/>
<text x="50.9" y="128.8" font-size="3.7" font-weight="bold" fill="#fff" text-anchor="middle">SFFV</text>
<rect x="64.5" y="122.6" width="28.2" height="9.6" fill="#5b9ad6" stroke="#17164a" stroke-width="1"/>
<text x="78.6" y="128.8" font-size="3.7" font-weight="bold" fill="#1f3f7a" text-anchor="middle">EC domain</text>
<rect x="92.7" y="122.6" width="12.3" height="9.6" fill="#eceef8" stroke="#17164a" stroke-width="1"/>
<text x="98.8" y="128.8" font-size="3.7" font-weight="bold" fill="#333" text-anchor="middle">TM</text>
<rect x="105.0" y="122.6" width="17.5" height="9.6" fill="#c9496a" stroke="#17164a" stroke-width="1"/>
<text x="113.8" y="128.8" font-size="3.7" font-weight="bold" fill="#fff" text-anchor="middle">FKBP</text>
<rect x="122.5" y="122.6" width="27.4" height="9.6" fill="#4672c6" stroke="#17164a" stroke-width="1"/>
<text x="136.2" y="128.8" font-size="3.7" font-weight="bold" fill="#fff" text-anchor="middle">IC domain</text>
<rect x="149.9" y="122.6" width="12.0" height="9.6" fill="#f4bd18" stroke="#17164a" stroke-width="1"/>
<text x="155.9" y="128.8" font-size="3.7" font-weight="bold" fill="#5a4a10" text-anchor="middle">2A</text>
<rect x="161.9" y="122.6" width="22.9" height="9.6" fill="#b2ef14" stroke="#17164a" stroke-width="1"/>
<text x="173.4" y="128.8" font-size="3.7" font-weight="bold" fill="#4a5a10" text-anchor="middle">YFP</text>
<rect x="184.8" y="122.6" width="11.6" height="9.6" fill="#fbf1bc" stroke="#17164a" stroke-width="1"/>
<text x="190.6" y="128.8" font-size="3.7" font-weight="bold" fill="#6a6040" text-anchor="middle">bGH</text>
<path d="M61.7,127.4 V119.9 H76.8" fill="none" stroke="#2a2a2a" stroke-width="0.9"/>
<path d="M75.6,118.6 L78.2,119.9 L75.6,121.2 Z" fill="#2a2a2a"/>
<line x1="31.2" y1="144.2" x2="219.5" y2="144.2" stroke="#262626" stroke-width="1.2"/>
<rect x="42.0" y="139.4" width="17.8" height="9.6" fill="#7f78e6" stroke="#17164a" stroke-width="1"/>
<text x="50.9" y="145.6" font-size="3.7" font-weight="bold" fill="#fff" text-anchor="middle">SFFV</text>
<rect x="64.5" y="139.4" width="26.2" height="9.6" fill="#5b9ad6" stroke="#17164a" stroke-width="1"/>
<text x="77.6" y="145.6" font-size="3.7" font-weight="bold" fill="#1f3f7a" text-anchor="middle">EC domain</text>
<rect x="90.7" y="139.4" width="18.9" height="9.6" fill="#c9496a" stroke="#17164a" stroke-width="1"/>
<text x="100.2" y="145.6" font-size="3.7" font-weight="bold" fill="#fff" text-anchor="middle">FKBP</text>
<rect x="109.6" y="139.4" width="11.6" height="9.6" fill="#eceef8" stroke="#17164a" stroke-width="1"/>
<text x="115.4" y="145.6" font-size="3.7" font-weight="bold" fill="#333" text-anchor="middle">TM</text>
<rect x="121.2" y="139.4" width="28.7" height="9.6" fill="#4672c6" stroke="#17164a" stroke-width="1"/>
<text x="135.6" y="145.6" font-size="3.7" font-weight="bold" fill="#fff" text-anchor="middle">IC domain</text>
<rect x="149.9" y="139.4" width="12.3" height="9.6" fill="#f4bd18" stroke="#17164a" stroke-width="1"/>
<text x="156.1" y="145.6" font-size="3.7" font-weight="bold" fill="#5a4a10" text-anchor="middle">2A</text>
<rect x="162.2" y="139.4" width="22.6" height="9.6" fill="#b2ef14" stroke="#17164a" stroke-width="1"/>
<text x="173.5" y="145.6" font-size="3.7" font-weight="bold" fill="#4a5a10" text-anchor="middle">YFP</text>
<rect x="184.8" y="139.4" width="11.6" height="9.6" fill="#fbf1bc" stroke="#17164a" stroke-width="1"/>
<text x="190.6" y="145.6" font-size="3.7" font-weight="bold" fill="#6a6040" text-anchor="middle">bGH</text>
<path d="M61.7,144.2 V136.7 H76.8" fill="none" stroke="#2a2a2a" stroke-width="0.9"/>
<path d="M75.6,135.4 L78.2,136.7 L75.6,138.0 Z" fill="#2a2a2a"/>
<line x1="31.2" y1="160.9" x2="219.5" y2="160.9" stroke="#262626" stroke-width="1.2"/>
<rect x="42.0" y="156.1" width="17.8" height="9.6" fill="#7f78e6" stroke="#17164a" stroke-width="1"/>
<text x="50.9" y="162.2" font-size="3.7" font-weight="bold" fill="#fff" text-anchor="middle">SFFV</text>
<rect x="64.5" y="156.1" width="16.7" height="9.6" fill="#c9496a" stroke="#17164a" stroke-width="1"/>
<text x="72.8" y="162.2" font-size="3.7" font-weight="bold" fill="#fff" text-anchor="middle">FKBP</text>
<rect x="81.2" y="156.1" width="10.7" height="9.6" fill="#eceef8" stroke="#17164a" stroke-width="1"/>
<text x="86.6" y="162.2" font-size="3.7" font-weight="bold" fill="#333" text-anchor="middle">TM</text>
<rect x="91.9" y="156.1" width="27.4" height="9.6" fill="#4672c6" stroke="#17164a" stroke-width="1"/>
<text x="105.6" y="162.2" font-size="3.7" font-weight="bold" fill="#fff" text-anchor="middle">IC domain</text>
<rect x="119.3" y="156.1" width="13.0" height="9.6" fill="#f4bd18" stroke="#17164a" stroke-width="1"/>
<text x="125.8" y="162.2" font-size="3.7" font-weight="bold" fill="#5a4a10" text-anchor="middle">2A</text>
<rect x="132.3" y="156.1" width="22.9" height="9.6" fill="#b2ef14" stroke="#17164a" stroke-width="1"/>
<text x="143.8" y="162.2" font-size="3.7" font-weight="bold" fill="#4a5a10" text-anchor="middle">YFP</text>
<rect x="155.2" y="156.1" width="12.2" height="9.6" fill="#fbf1bc" stroke="#17164a" stroke-width="1"/>
<text x="161.3" y="162.2" font-size="3.7" font-weight="bold" fill="#6a6040" text-anchor="middle">bGH</text>
<path d="M61.7,160.9 V153.4 H76.8" fill="none" stroke="#2a2a2a" stroke-width="0.9"/>
<path d="M75.6,152.1 L78.2,153.4 L75.6,154.7 Z" fill="#2a2a2a"/>
<line x1="31.2" y1="178.2" x2="219.5" y2="178.2" stroke="#262626" stroke-width="1.2"/>
<rect x="42.0" y="173.4" width="17.8" height="9.6" fill="#7f78e6" stroke="#17164a" stroke-width="1"/>
<text x="50.9" y="179.6" font-size="3.7" font-weight="bold" fill="#fff" text-anchor="middle">SFFV</text>
<rect x="65.5" y="173.4" width="17.2" height="9.6" fill="#c9496a" stroke="#17164a" stroke-width="1"/>
<text x="74.1" y="179.6" font-size="3.7" font-weight="bold" fill="#fff" text-anchor="middle">FKBP</text>
<rect x="82.7" y="173.4" width="17.9" height="9.6" fill="#5b9ad6" stroke="#17164a" stroke-width="1"/>
<text x="91.7" y="177.6" font-size="3" font-weight="bold" fill="#1f3f7a" text-anchor="middle">EC</text>
<text x="91.7" y="180.6" font-size="3" font-weight="bold" fill="#1f3f7a" text-anchor="middle">domain</text>
<rect x="100.6" y="173.4" width="11.3" height="9.6" fill="#eceef8" stroke="#17164a" stroke-width="1"/>
<text x="106.2" y="179.6" font-size="3.7" font-weight="bold" fill="#333" text-anchor="middle">TM</text>
<rect x="111.9" y="173.4" width="28.9" height="9.6" fill="#4672c6" stroke="#17164a" stroke-width="1"/>
<text x="126.4" y="179.6" font-size="3.7" font-weight="bold" fill="#fff" text-anchor="middle">IC domain</text>
<rect x="140.8" y="173.4" width="12.7" height="9.6" fill="#f4bd18" stroke="#17164a" stroke-width="1"/>
<text x="147.2" y="179.6" font-size="3.7" font-weight="bold" fill="#5a4a10" text-anchor="middle">2A</text>
<rect x="153.5" y="173.4" width="22.8" height="9.6" fill="#b2ef14" stroke="#17164a" stroke-width="1"/>
<text x="164.9" y="179.6" font-size="3.7" font-weight="bold" fill="#4a5a10" text-anchor="middle">YFP</text>
<rect x="176.3" y="173.4" width="11.0" height="9.6" fill="#fbf1bc" stroke="#17164a" stroke-width="1"/>
<text x="181.8" y="179.6" font-size="3.7" font-weight="bold" fill="#6a6040" text-anchor="middle">bGH</text>
<path d="M61.7,178.2 V170.7 H76.8" fill="none" stroke="#2a2a2a" stroke-width="0.9"/>
<path d="M75.6,169.4 L78.2,170.7 L75.6,172.0 Z" fill="#2a2a2a"/>
<line x1="31.2" y1="195.5" x2="219.5" y2="195.5" stroke="#262626" stroke-width="1.2"/>
<rect x="42.0" y="190.7" width="17.8" height="9.6" fill="#7f78e6" stroke="#17164a" stroke-width="1"/>
<text x="50.9" y="196.8" font-size="3.7" font-weight="bold" fill="#fff" text-anchor="middle">SFFV</text>
<rect x="65.0" y="190.7" width="9.7" height="9.6" fill="#5b9ad6" stroke="#17164a" stroke-width="1"/>
<rect x="74.7" y="190.7" width="18.0" height="9.6" fill="#c9496a" stroke="#17164a" stroke-width="1"/>
<text x="83.7" y="196.8" font-size="3.7" font-weight="bold" fill="#fff" text-anchor="middle">FKBP</text>
<rect x="92.7" y="190.7" width="25.7" height="9.6" fill="#5b9ad6" stroke="#17164a" stroke-width="1"/>
<text x="105.6" y="196.8" font-size="3.7" font-weight="bold" fill="#1f3f7a" text-anchor="middle">EC domain</text>
<rect x="118.4" y="190.7" width="11.9" height="9.6" fill="#eceef8" stroke="#17164a" stroke-width="1"/>
<text x="124.4" y="196.8" font-size="3.7" font-weight="bold" fill="#333" text-anchor="middle">TM</text>
<rect x="130.3" y="190.7" width="29.1" height="9.6" fill="#4672c6" stroke="#17164a" stroke-width="1"/>
<text x="144.9" y="196.8" font-size="3.7" font-weight="bold" fill="#fff" text-anchor="middle">IC domain</text>
<rect x="159.4" y="190.7" width="12.3" height="9.6" fill="#f4bd18" stroke="#17164a" stroke-width="1"/>
<text x="165.6" y="196.8" font-size="3.7" font-weight="bold" fill="#5a4a10" text-anchor="middle">2A</text>
<rect x="171.7" y="190.7" width="21.9" height="9.6" fill="#b2ef14" stroke="#17164a" stroke-width="1"/>
<text x="182.6" y="196.8" font-size="3.7" font-weight="bold" fill="#4a5a10" text-anchor="middle">YFP</text>
<rect x="193.6" y="190.7" width="11.9" height="9.6" fill="#fbf1bc" stroke="#17164a" stroke-width="1"/>
<text x="199.6" y="196.8" font-size="3.7" font-weight="bold" fill="#6a6040" text-anchor="middle">bGH</text>
<path d="M61.7,195.5 V188.0 H76.8" fill="none" stroke="#2a2a2a" stroke-width="0.9"/>
<path d="M75.6,186.7 L78.2,188.0 L75.6,189.3 Z" fill="#2a2a2a"/>
<line x1="31.2" y1="213.3" x2="219.5" y2="213.3" stroke="#262626" stroke-width="1.2"/>
<rect x="42.0" y="208.5" width="17.8" height="9.6" fill="#7f78e6" stroke="#17164a" stroke-width="1"/>
<text x="50.9" y="214.7" font-size="3.7" font-weight="bold" fill="#fff" text-anchor="middle">SFFV</text>
<rect x="64.5" y="208.5" width="9.7" height="9.6" fill="#5aa83a" stroke="#17164a" stroke-width="1"/>
<text x="69.3" y="212.7" font-size="3" font-weight="bold" fill="#1a3a10" text-anchor="middle">IL-6</text>
<text x="69.3" y="215.7" font-size="3" font-weight="bold" fill="#1a3a10" text-anchor="middle">SP</text>
<rect x="74.2" y="208.5" width="18.2" height="9.6" fill="#c9496a" stroke="#17164a" stroke-width="1"/>
<text x="83.3" y="214.7" font-size="3.7" font-weight="bold" fill="#fff" text-anchor="middle">FKBP</text>
<rect x="92.4" y="208.5" width="9.5" height="9.6" fill="#eceef8" stroke="#17164a" stroke-width="1"/>
<text x="97.2" y="214.7" font-size="3.7" font-weight="bold" fill="#333" text-anchor="middle">TM</text>
<rect x="101.9" y="208.5" width="24.7" height="9.6" fill="#4672c6" stroke="#17164a" stroke-width="1"/>
<text x="114.2" y="214.7" font-size="3.7" font-weight="bold" fill="#fff" text-anchor="middle">tEPOR-IC</text>
<rect x="126.6" y="208.5" width="12.7" height="9.6" fill="#f4bd18" stroke="#17164a" stroke-width="1"/>
<text x="132.9" y="214.7" font-size="3.7" font-weight="bold" fill="#5a4a10" text-anchor="middle">2A</text>
<rect x="139.3" y="208.5" width="21.2" height="9.6" fill="#b2ef14" stroke="#17164a" stroke-width="1"/>
<text x="149.9" y="214.7" font-size="3.7" font-weight="bold" fill="#4a5a10" text-anchor="middle">YFP</text>
<rect x="160.5" y="208.5" width="11.2" height="9.6" fill="#fbf1bc" stroke="#17164a" stroke-width="1"/>
<text x="166.1" y="214.7" font-size="3.7" font-weight="bold" fill="#6a6040" text-anchor="middle">bGH</text>
<path d="M61.7,213.3 V205.8 H76.8" fill="none" stroke="#2a2a2a" stroke-width="0.9"/>
<path d="M75.6,204.5 L78.2,205.8 L75.6,207.1 Z" fill="#2a2a2a"/>
</g>


<!-- bottom bracket -->
<path d="M20.4,223.6 Q20.4,228.5 23.5,228.5 L115,228.5 Q118,228.5 118,232.6 Q118,228.5 121,228.5 L211.5,228.5 Q214.7,228.5 214.7,223.6" fill="none" stroke="#111" stroke-width="1.5"/>
<g stroke="#222" stroke-width="1.05" stroke-dasharray="2.8 1.7" fill="none">
  <line x1="26.2" y1="233" x2="114.6" y2="261.5"/>
  <line x1="214.7" y1="231.6" x2="127" y2="262.3"/>
</g>
<!-- bottom construct -->
<line x1="21.3" y1="268" x2="209.6" y2="268" stroke="#222" stroke-width="1.3"/>
<rect x="91.9" y="265" width="21.2" height="5.4" fill="#b9b2e8" stroke="#1a1a50" stroke-width="0.8"/>
<text x="102.5" y="269" font-size="3.2" fill="#333" text-anchor="middle" class="san">5' HA</text>
<rect x="113.1" y="263" width="53.4" height="9.3" fill="#7b6be6" stroke="#1a1a50" stroke-width="0.8"/>
<text x="139.8" y="269.2" font-size="4.3" fill="#fff" text-anchor="middle" class="san">CCR5 Exon 1</text>
<!-- cas9 icon -->
<g>
  <path d="M114.2,255.6 Q114.8,252.4 117.6,251.6 Q119.6,250.4 122,251 Q124.6,251.6 124.6,254.2 Q124.4,256.8 122,257.6 Q119.4,258.6 117.2,257.6 Q114.6,257.4 114.2,255.6 Z" fill="#b9dba6"/>
  <path d="M117.8,252.6 Q120,251.4 122.4,252.4 Q123.6,254 122.6,256 Q120.6,257.6 118.8,256.6 Q117.6,255.6 118.6,254.4 Q117.4,253.6 117.8,252.6 Z" fill="#4f9440"/>
  <path d="M121.2,253 Q122.8,253.4 122.6,255.4 Q121.4,256.4 120.4,255.4 Z" fill="#1f5a1c"/>
  <path d="M119.6,257 L118.6,259.6 M121.6,256.8 L123.6,259.4" stroke="#6a7a8a" stroke-width="0.5" fill="none"/>
</g>

<!-- ===== chart ===== -->
<g id="chart" class="san" fill="#111">
<text transform="translate(242.9,203.8) rotate(-90)" font-size="8.4" font-weight="bold" stroke="#111" stroke-width="0.2" text-anchor="middle" textLength="97" lengthAdjust="spacingAndGlyphs">Cumulative Fold Change</text>
<text transform="translate(254.2,203.6) rotate(-90)" font-size="8.4" font-weight="bold" stroke="#111" stroke-width="0.2" text-anchor="middle" textLength="40.5" lengthAdjust="spacingAndGlyphs">(+BB/-BB)</text>
<path d="M283.3,151.6 V256.5 H443" fill="none" stroke="#111" stroke-width="1.3"/>
<line x1="279.3" y1="256.3" x2="283.3" y2="256.3" stroke="#111" stroke-width="1.2"/>
<text x="277.7" y="259.3" font-size="8.4" font-weight="bold" text-anchor="end">0</text>
<line x1="279.3" y1="221.6" x2="283.3" y2="221.6" stroke="#111" stroke-width="1.2"/>
<text x="277.7" y="224.6" font-size="8.4" font-weight="bold" text-anchor="end">5</text>
<line x1="279.3" y1="186.9" x2="283.3" y2="186.9" stroke="#111" stroke-width="1.2"/>
<text x="277.7" y="189.9" font-size="8.4" font-weight="bold" text-anchor="end">10</text>
<line x1="279.3" y1="152.2" x2="283.3" y2="152.2" stroke="#111" stroke-width="1.2"/>
<text x="277.7" y="155.2" font-size="8.4" font-weight="bold" text-anchor="end">15</text>
<line x1="303" y1="256.5" x2="303" y2="261.2" stroke="#111" stroke-width="1.1"/>
<text transform="translate(303.3,269.7) scale(0.92,1)" font-size="8.4" font-weight="bold" text-anchor="middle">D0</text>
<line x1="342.7" y1="256.5" x2="342.7" y2="261.2" stroke="#111" stroke-width="1.1"/>
<text transform="translate(343.0,269.7) scale(0.92,1)" font-size="8.4" font-weight="bold" text-anchor="middle">D4</text>
<line x1="382.3" y1="256.5" x2="382.3" y2="261.2" stroke="#111" stroke-width="1.1"/>
<text transform="translate(382.6,269.7) scale(0.92,1)" font-size="8.4" font-weight="bold" text-anchor="middle">D7</text>
<line x1="421.8" y1="256.5" x2="421.8" y2="261.2" stroke="#111" stroke-width="1.1"/>
<text transform="translate(422.1,269.7) scale(0.92,1)" font-size="8.4" font-weight="bold" text-anchor="middle">D11</text>
<polyline points="303,249.5 342.7,248.3 382.3,247.5 421.8,247.8" fill="none" stroke="#d8d8d8" stroke-width="0.6"/>
<polyline points="303,249.5 342.7,248.3 382.3,248.8 421.8,248.4" fill="none" stroke="#c5d3e8" stroke-width="0.6"/>
<polyline points="303,249.5 342.7,248.3 382.3,245.5 421.8,210.2" fill="none" stroke="#efd2c0" stroke-width="0.6"/>
<path d="M421.8,198.2 V222 M419.8,198.2 H423.8 M419.8,222 H423.8" fill="none" stroke="#a3705a" stroke-width="0.6"/>
<polyline points="303,249.5 342.7,248.3 382.3,243 421.8,166.8" fill="none" stroke="#e9c49c" stroke-width="0.8"/>
<path d="M421.8,161.4 V172.2 M419.8,161.4 H423.8 M419.8,172.2 H423.8" fill="none" stroke="#957040" stroke-width="0.6"/>
<path d="M382.3,239.5 V246.5 M380.3,239.5 H384.3 M380.3,246.5 H384.3" fill="none" stroke="#957040" stroke-width="0.6"/>
<polyline points="303,249.5 342.7,248.3 382.3,246.5 421.8,242" fill="none" stroke="#e8b9b0" stroke-width="0.6"/>
<polyline points="303,249.5 342.7,248.3 382.3,224 421.8,236" fill="none" stroke="#e7a5a5" stroke-width="0.7"/>
<path d="M382.3,200.6 V247 M380.3,200.6 H384.3 M380.3,247 H384.3" fill="none" stroke="#c05a60" stroke-width="0.6"/>
<path d="M421.8,224.5 V247 M419.8,224.5 H423.8 M419.8,247 H423.8" fill="none" stroke="#c05a60" stroke-width="0.6"/>
<polyline points="303,249.5 342.7,248.3 382.3,248.6 421.8,237.6" fill="none" stroke="#8a8a8a" stroke-width="0.7"/>
<polyline points="303,249.5 342.7,247.6 382.3,231.2 421.8,237.4" fill="none" stroke="#555" stroke-width="0.9"/>
<path d="M382.3,216.3 V246 M380.3,216.3 H384.3 M380.3,246 H384.3" fill="none" stroke="#111" stroke-width="0.6"/>
<path d="M421.8,229.2 V245.5 M419.8,229.2 H423.8 M419.8,245.5 H423.8" fill="none" stroke="#111" stroke-width="0.6"/>
<polyline points="303,249.5 342.7,248.3 382.3,249.3 421.8,248.5" fill="none" stroke="#111" stroke-width="2.0"/>
<circle cx="303" cy="249.5" r="2.1" fill="#fff" stroke="#a8a8a8" stroke-width="1.1"/>
<circle cx="342.7" cy="248.3" r="2.1" fill="#fff" stroke="#a8a8a8" stroke-width="1.1"/>
<circle cx="382.3" cy="247.5" r="2.1" fill="#fff" stroke="#a8a8a8" stroke-width="1.1"/>
<circle cx="421.8" cy="247.8" r="2.1" fill="#fff" stroke="#a8a8a8" stroke-width="1.1"/>
<circle cx="303" cy="249.5" r="2.1" fill="#fff" stroke="#4d6fa3" stroke-width="1.1"/>
<circle cx="342.7" cy="248.3" r="2.1" fill="#fff" stroke="#4d6fa3" stroke-width="1.1"/>
<circle cx="382.3" cy="248.8" r="2.1" fill="#fff" stroke="#4d6fa3" stroke-width="1.1"/>
<circle cx="421.8" cy="248.4" r="2.1" fill="#fff" stroke="#4d6fa3" stroke-width="1.1"/>
<circle cx="303" cy="249.5" r="2.1" fill="#fff" stroke="#a3705a" stroke-width="1.1"/>
<circle cx="342.7" cy="248.3" r="2.1" fill="#fff" stroke="#a3705a" stroke-width="1.1"/>
<circle cx="382.3" cy="245.5" r="2.1" fill="#fff" stroke="#a3705a" stroke-width="1.1"/>
<circle cx="421.8" cy="210.2" r="2.1" fill="#fff" stroke="#a3705a" stroke-width="1.1"/>
<circle cx="303" cy="249.5" r="2.1" fill="#e2cba4" stroke="#957040" stroke-width="1.1"/>
<circle cx="342.7" cy="248.3" r="2.1" fill="#e2cba4" stroke="#957040" stroke-width="1.1"/>
<circle cx="382.3" cy="243" r="2.1" fill="#e2cba4" stroke="#957040" stroke-width="1.1"/>
<circle cx="421.8" cy="166.8" r="2.1" fill="#e2cba4" stroke="#957040" stroke-width="1.1"/>
<circle cx="303" cy="249.5" r="2.1" fill="#9a5a4c" stroke="#84473c" stroke-width="1.1"/>
<circle cx="342.7" cy="248.3" r="2.1" fill="#9a5a4c" stroke="#84473c" stroke-width="1.1"/>
<circle cx="382.3" cy="246.5" r="2.1" fill="#9a5a4c" stroke="#84473c" stroke-width="1.1"/>
<circle cx="421.8" cy="242" r="2.1" fill="#9a5a4c" stroke="#84473c" stroke-width="1.1"/>
<circle cx="303" cy="249.5" r="2.1" fill="#e6c2c2" stroke="#c05a60" stroke-width="1.1"/>
<circle cx="342.7" cy="248.3" r="2.1" fill="#e6c2c2" stroke="#c05a60" stroke-width="1.1"/>
<circle cx="382.3" cy="224" r="2.1" fill="#e6c2c2" stroke="#c05a60" stroke-width="1.1"/>
<circle cx="421.8" cy="236" r="2.1" fill="#e6c2c2" stroke="#c05a60" stroke-width="1.1"/>
<circle cx="303" cy="249.5" r="2.1" fill="#222" stroke="#111" stroke-width="1.1"/>
<circle cx="342.7" cy="248.3" r="2.1" fill="#222" stroke="#111" stroke-width="1.1"/>
<circle cx="382.3" cy="248.6" r="2.1" fill="#222" stroke="#111" stroke-width="1.1"/>
<circle cx="421.8" cy="237.6" r="2.1" fill="#222" stroke="#111" stroke-width="1.1"/>
<circle cx="303" cy="249.5" r="2.1" fill="#6a5a50" stroke="#111" stroke-width="1.1"/>
<circle cx="342.7" cy="247.6" r="2.1" fill="#6a5a50" stroke="#111" stroke-width="1.1"/>
<circle cx="382.3" cy="231.2" r="2.1" fill="#6a5a50" stroke="#111" stroke-width="1.1"/>
<circle cx="421.8" cy="237.4" r="2.1" fill="#6a5a50" stroke="#111" stroke-width="1.1"/>
<circle cx="303" cy="249.5" r="2.1" fill="#fff" stroke="#111" stroke-width="1.1"/>
<circle cx="342.7" cy="248.3" r="2.1" fill="#fff" stroke="#111" stroke-width="1.1"/>
<circle cx="382.3" cy="249.3" r="2.1" fill="#fff" stroke="#111" stroke-width="1.1"/>
<circle cx="421.8" cy="248.5" r="2.1" fill="#fff" stroke="#111" stroke-width="1.1"/>
<text x="421.8" y="160.3" font-size="7" font-weight="bold" text-anchor="middle">***</text>
<text x="421.8" y="196" font-size="7" font-weight="bold" text-anchor="middle">**</text>
<line x1="465" y1="146.6" x2="476.8" y2="146.6" stroke="#111" stroke-width="1.3"/>
<circle cx="470.8" cy="146.6" r="2.25" fill="#fff" stroke="#111" stroke-width="1.2"/>
<text transform="translate(483.2,150.0) scale(0.85,1)" font-size="9.8" stroke="#111" stroke-width="0.15">Mock</text>
<line x1="465" y1="161.2" x2="476.8" y2="161.2" stroke="#c5d3e8" stroke-width="0.6"/>
<circle cx="470.8" cy="161.2" r="2.25" fill="#fff" stroke="#4d6fa3" stroke-width="1.2"/>
<text transform="translate(483.2,164.7) scale(0.85,1)" font-size="9.8" stroke="#111" stroke-width="0.15">1.1</text>
<line x1="465" y1="175.9" x2="476.8" y2="175.9" stroke="#f0c8c0" stroke-width="0.6"/>
<circle cx="470.8" cy="175.9" r="2.25" fill="#9a5a4c" stroke="#84473c" stroke-width="1.2"/>
<text transform="translate(483.2,179.3) scale(0.85,1)" font-size="9.8" stroke="#111" stroke-width="0.15">1.2</text>
<line x1="465" y1="190.6" x2="476.8" y2="190.6" stroke="#8a8a8a" stroke-width="1.0"/>
<circle cx="470.8" cy="190.6" r="2.25" fill="#111" stroke="#111" stroke-width="1.2"/>
<text transform="translate(483.2,194.0) scale(0.85,1)" font-size="9.8" stroke="#111" stroke-width="0.15">1.3</text>
<line x1="465" y1="205.2" x2="476.8" y2="205.2" stroke="#f3dccc" stroke-width="0.6"/>
<circle cx="470.8" cy="205.2" r="2.25" fill="#fff" stroke="#a3705a" stroke-width="1.2"/>
<text transform="translate(483.2,208.6) scale(0.85,1)" font-size="9.8" stroke="#111" stroke-width="0.15">1.4</text>
<line x1="465" y1="219.8" x2="476.8" y2="219.8" stroke="#dcdcdc" stroke-width="0.6"/>
<circle cx="470.8" cy="219.8" r="2.25" fill="#fff" stroke="#a8a8a8" stroke-width="1.2"/>
<text transform="translate(483.2,223.2) scale(0.85,1)" font-size="9.8" stroke="#111" stroke-width="0.15">1.5</text>
<line x1="465" y1="234.5" x2="476.8" y2="234.5" stroke="#f0c0c0" stroke-width="0.6"/>
<circle cx="470.8" cy="234.5" r="2.25" fill="#fff" stroke="#d06070" stroke-width="1.2"/>
<text transform="translate(483.2,237.9) scale(0.85,1)" font-size="9.8" stroke="#111" stroke-width="0.15">1.6</text>
<line x1="465" y1="249.1" x2="476.8" y2="249.1" stroke="#111" stroke-width="1.0"/>
<circle cx="470.8" cy="249.1" r="2.25" fill="#555" stroke="#111" stroke-width="1.2"/>
<text transform="translate(483.2,252.5) scale(0.85,1)" font-size="9.8" stroke="#111" stroke-width="0.15">1.7</text>
<line x1="465" y1="263.8" x2="476.8" y2="263.8" stroke="#f3d8bc" stroke-width="0.6"/>
<circle cx="470.8" cy="263.8" r="2.25" fill="#fff" stroke="#a07a50" stroke-width="1.2"/>
<text transform="translate(483.2,267.2) scale(0.85,1)" font-size="9.8" stroke="#111" stroke-width="0.15">3.5.2</text>
</g>

<g class="ser" font-size="6.85" fill="#1a1a1a" stroke="#1a1a1a" stroke-width="0.06">
  <text transform="translate(11.8,283.6) scale(1,1.055)" x="0" y="0" textLength="205.5" lengthAdjust="spacingAndGlyphs"><tspan font-weight="bold">Figure 1:</tspan> Schematic of iEPOR designs. Red regions represent the physical</text>
  <text transform="translate(11.8,291.7) scale(1,1.055)" x="0" y="0" textLength="195.7" lengthAdjust="spacingAndGlyphs">placement of FKBP domains within the receptor. Green represents IL-6</text>
  <text transform="translate(11.8,299.8) scale(1,1.055)" x="0" y="0" textLength="206.4" lengthAdjust="spacingAndGlyphs">signal peptide. Empty outline represents EPOR truncation. Gene constructs</text>
  <text transform="translate(11.8,307.9) scale(1,1.055)" x="0" y="0" textLength="202.8" lengthAdjust="spacingAndGlyphs">and integration site shown below. Constructs are driven by the SFFV viral</text>
  <text transform="translate(11.8,316.0) scale(1,1.055)" x="0" y="0" textLength="198.9" lengthAdjust="spacingAndGlyphs">promoter with extracellular (EC) domain, transmembrane (TM) domain,</text>
  <text transform="translate(11.8,324.1) scale(1,1.055)" x="0" y="0" textLength="102.8" lengthAdjust="spacingAndGlyphs">and intracellular (IC) domain labeled.</text>
</g>
<g class="ser" font-size="6.85" fill="#1a1a1a" stroke="#1a1a1a" stroke-width="0.06">
  <text transform="translate(235,282.7) scale(1,1.055)" x="0" y="0" textLength="268" lengthAdjust="spacingAndGlyphs"><tspan font-weight="bold">Figure 2:</tspan> Cumulative fold change in cell count throughout RBC differentiation in EPO-free RBC</text>
  <text transform="translate(235,290.6) scale(1,1.055)" x="0" y="0" textLength="244.7" lengthAdjust="spacingAndGlyphs">differentiation media +/-BB. Points represent mean ± SEM. Values represent biologically</text>
  <text transform="translate(235,298.5) scale(1,1.055)" x="0" y="0" textLength="266.2" lengthAdjust="spacingAndGlyphs">independent HSPC donors N=5 for Mock, N=4 for 115, and N=2 for all else. ***: p &lt; 0.0001 for</text>
  <text transform="translate(235,306.4) scale(1,1.055)" x="0" y="0" textLength="181.2" lengthAdjust="spacingAndGlyphs">Mock D11 vs 3.5.2 D11, **: p = 0.0033 for Mock D11 vs 1.4 D11.</text>
</g>
</svg>
</body></html>
